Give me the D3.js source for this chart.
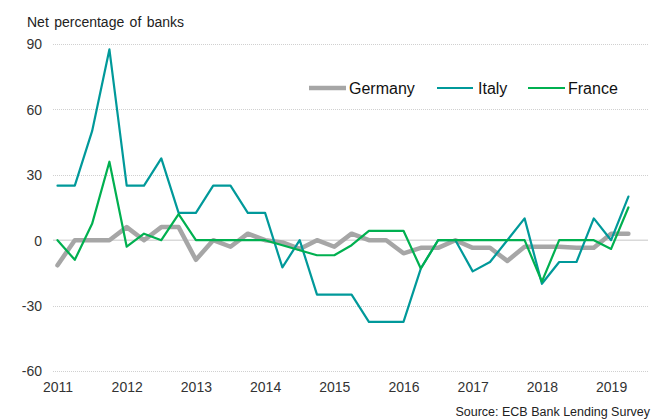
<!DOCTYPE html>
<html>
<head>
<meta charset="utf-8">
<script src="https://cdn.jsdelivr.net/npm/d3@7"></script>
<style>
  html, body { margin: 0; padding: 0; background: #fff; }
  svg { display: block; font-family: "Liberation Sans", Arial, sans-serif; }
</style>
</head>
<body>
<svg id="chart" width="660" height="419"></svg>
<script>
// Quarterly survey periods, 2011 Q1 to 2019 Q2
const quarters = [
  "2011Q1","2011Q2","2011Q3","2011Q4","2012Q1","2012Q2","2012Q3","2012Q4",
  "2013Q1","2013Q2","2013Q3","2013Q4","2014Q1","2014Q2","2014Q3","2014Q4",
  "2015Q1","2015Q2","2015Q3","2015Q4","2016Q1","2016Q2","2016Q3","2016Q4",
  "2017Q1","2017Q2","2017Q3","2017Q4","2018Q1","2018Q2","2018Q3","2018Q4",
  "2019Q1","2019Q2"
];

// Net percentage of banks, by country
const germany = [-11.5,0,0,0,6,0,6,6,-9,0,-3,3,0,-1,-4,0,-3,3,0,0,-6,-3.5,-3.5,0,-3.5,-3.5,-9.5,-3,-3,-3,-3.5,-3.5,3,3];
const italy   = [25,25,50,87.5,25,25,37.5,12.5,12.5,25,25,12.5,12.5,-12.5,0,-25,-25,-25,-37.5,-37.5,-37.5,-13,0,0,-14.3,-10,0,10,-20,-10,-10,10,0,20];
const france  = [0,-9,7.5,36,-3,3,0,12,0,0,0,0,0,-2.3,-4.6,-6.9,-6.9,-2.3,4.3,4.3,4.3,-13,0,0,0,0,0,0,-19,0,0,0,-4,15];

const yTicks = [90, 60, 30, 0, -30, -60];
const yearTicks = [2011, 2012, 2013, 2014, 2015, 2016, 2017, 2018, 2019];

const seriesNames = ["Germany", "Italy", "France"];
const seriesValues = [germany, italy, france];
const seriesColors = ["#a6a6a6", "#00999a", "#00b050"];
const seriesWidths = [4.5, 2.2, 2.2];

const svg = d3.select("#chart");

// quarter label -> decimal year
const toYear = q => +q.slice(0, 4) + (+q.slice(5) - 1) / 4;

const x = d3.scaleLinear().domain([2011, 2019.25]).range([57.5, 628.4]);
const y = d3.scaleLinear().domain([-60, 90]).range([371, 44]);

const gridLeft = 53, gridRight = 648;

// horizontal gridlines
svg.append("g")
  .selectAll("line")
  .data(yTicks.filter(d => d !== 0))
  .join("line")
  .attr("x1", gridLeft).attr("x2", gridRight)
  .attr("y1", d => Math.round(y(d)) + 0.5).attr("y2", d => Math.round(y(d)) + 0.5)
  .attr("stroke", "#d0d0d0")
  .attr("stroke-width", 1)
  .attr("stroke-dasharray", "1,1");

// zero line
svg.append("line")
  .attr("x1", gridLeft).attr("x2", gridRight)
  .attr("y1", y(0)).attr("y2", y(0))
  .attr("stroke", "#d9d9d9")
  .attr("stroke-width", 1.5);

// y axis labels (plain hyphen for negatives)
const yAxis = d3.axisLeft(y).tickValues(yTicks).tickFormat(d => String(d)).tickSize(0).tickPadding(0);
const gy = svg.append("g").attr("transform", "translate(42,0)").call(yAxis);
gy.select(".domain").remove();
gy.selectAll("text")
  .attr("font-size", 14)
  .attr("font-family", "'Liberation Sans', Arial, sans-serif")
  .attr("fill", "#333")
  .attr("dy", "0.35em");

// x axis labels
const xAxis = d3.axisBottom(x).tickValues(yearTicks).tickFormat(d => String(d)).tickSize(0).tickPadding(0);
const gx = svg.append("g").attr("transform", "translate(0,382)").call(xAxis);
gx.select(".domain").remove();
gx.selectAll("text")
  .attr("font-size", 14)
  .attr("font-family", "'Liberation Sans', Arial, sans-serif")
  .attr("fill", "#333")
  .attr("dy", "0.72em");

// axis title
svg.append("text")
  .attr("x", 27).attr("y", 27)
  .attr("font-size", 14)
  .attr("word-spacing", 1.5)
  .attr("fill", "#222")
  .text("Net percentage of banks");

// series lines
const line = d3.line()
  .x((d, i) => x(toYear(quarters[i])))
  .y(d => y(d));

svg.append("g")
  .selectAll("path")
  .data(seriesValues)
  .join("path")
  .attr("d", d => line(d))
  .attr("fill", "none")
  .attr("stroke", (d, i) => seriesColors[i])
  .attr("stroke-width", (d, i) => seriesWidths[i])
  .attr("stroke-linejoin", "round")
  .attr("stroke-linecap", "round");

// legend
const legendItems = [
  { x0: 309, x1: 346, tx: 349 },
  { x0: 437, x1: 473, tx: 478 },
  { x0: 528, x1: 565, tx: 568 }
];
const lg = svg.append("g").selectAll("g").data(seriesNames).join("g");
lg.append("line")
  .attr("x1", (d, i) => legendItems[i].x0).attr("x2", (d, i) => legendItems[i].x1)
  .attr("y1", 88).attr("y2", 88)
  .attr("stroke", (d, i) => seriesColors[i])
  .attr("stroke-width", (d, i) => seriesWidths[i]);
lg.append("text")
  .attr("x", (d, i) => legendItems[i].tx)
  .attr("y", 88)
  .attr("dy", "0.36em")
  .attr("font-size", 16)
  .attr("fill", "#111")
  .text(d => d);

// source note
svg.append("text")
  .attr("x", 650).attr("y", 415.5)
  .attr("text-anchor", "end")
  .attr("font-size", 12.5)
  .attr("fill", "#222")
  .text("Source: ECB Bank Lending Survey");
</script>
</body>
</html>
